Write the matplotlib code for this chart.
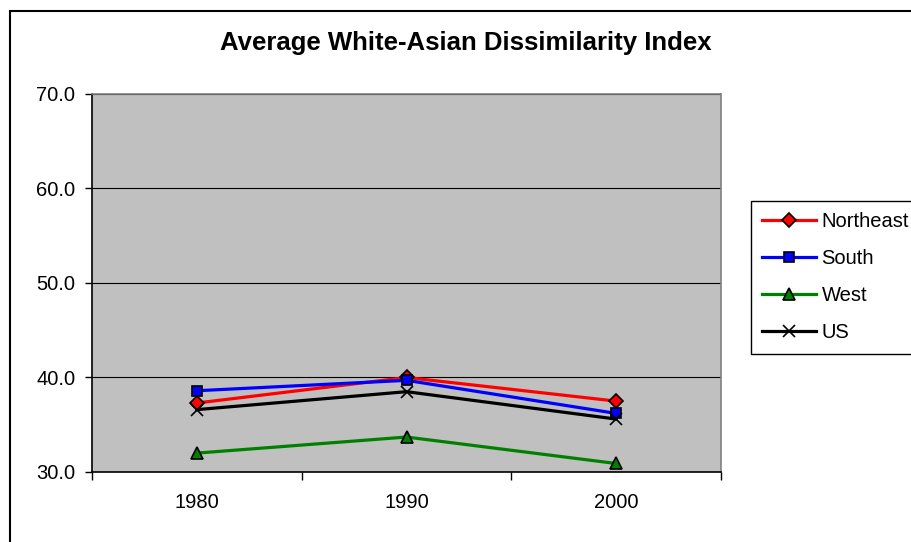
import matplotlib
matplotlib.use("Agg")
import matplotlib.pyplot as plt
from matplotlib.patches import Rectangle

plt.rcParams['font.family'] = ['Liberation Sans', 'DejaVu Sans']

years = ["1980", "1990", "2000"]
northeast = [37.3, 40.0, 37.5]
south = [38.6, 39.7, 36.2]
west = [32.0, 33.7, 30.9]
us = [36.6, 38.5, 35.6]

W, H = 911, 542
fig = plt.figure(figsize=(W / 100, H / 100), dpi=100)

# chart border (runs off the right and bottom edges)
fig.patches.append(Rectangle((9.5 / W, -0.1), 1.2, 1 - 10.5 / H + 0.1,
                             transform=fig.transFigure, fill=False,
                             edgecolor="black", linewidth=1.5))

ax = fig.add_axes([92 / W, (H - 472) / H, (721 - 92) / W, (472 - 94) / H])
ax.set_facecolor("#c0c0c0")

x = range(len(years))
series = [
    ("Northeast", northeast, "red", "D", 7.5),
    ("South", south, "blue", "s", 7),
    ("West", west, "green", "^", 9),
    ("US", us, "black", "x", 8),
]
for name, vals, col, mk, ms in series:
    ax.plot(x, vals, color=col, linewidth=2.3, marker=mk, markersize=ms,
            markerfacecolor=col, markeredgecolor="black", markeredgewidth=1.2,
            label=name, zorder=3)

ax.set_xlim(-0.5, 2.5)
ax.set_ylim(30, 70)
ax.set_yticks([30, 40, 50, 60, 70])
ax.set_yticklabels(["30.0", "40.0", "50.0", "60.0", "70.0"])
ax.yaxis.grid(True, color="black", linewidth=0.8)
ax.set_axisbelow(True)

ax.set_xticks([-0.5, 0.5, 1.5, 2.5])
ax.set_xticklabels([])
ax.set_xticks(list(x), minor=True)
ax.set_xticklabels(years, minor=True)
ax.tick_params(axis="x", which="major", direction="out", length=6, width=1)
ax.tick_params(axis="x", which="minor", length=0, pad=15, labelsize=14.5)
ax.tick_params(axis="y", direction="out", length=5, width=1, pad=7, labelsize=14.5)

for s in ("left", "bottom"):
    ax.spines[s].set_color("black")
    ax.spines[s].set_linewidth(1.2)
for s in ("top", "right"):
    ax.spines[s].set_color("#808080")
    ax.spines[s].set_linewidth(1.2)

fig.text(466 / W, 1 - 43 / H, "Average White-Asian Dissimilarity Index",
         ha="center", va="center", fontsize=18.5, fontweight="bold")

leg = ax.legend(loc="upper left", bbox_to_anchor=(751 / W, 1 - 201 / H),
                bbox_transform=fig.transFigure, frameon=True, fancybox=False,
                edgecolor="black", framealpha=1, fontsize=14.5,
                handlelength=2.7, handletextpad=0.25, labelspacing=0.9,
                borderpad=0.55, borderaxespad=0)
leg.get_frame().set_linewidth(1.0)

fig.savefig("out.png", dpi=100)
